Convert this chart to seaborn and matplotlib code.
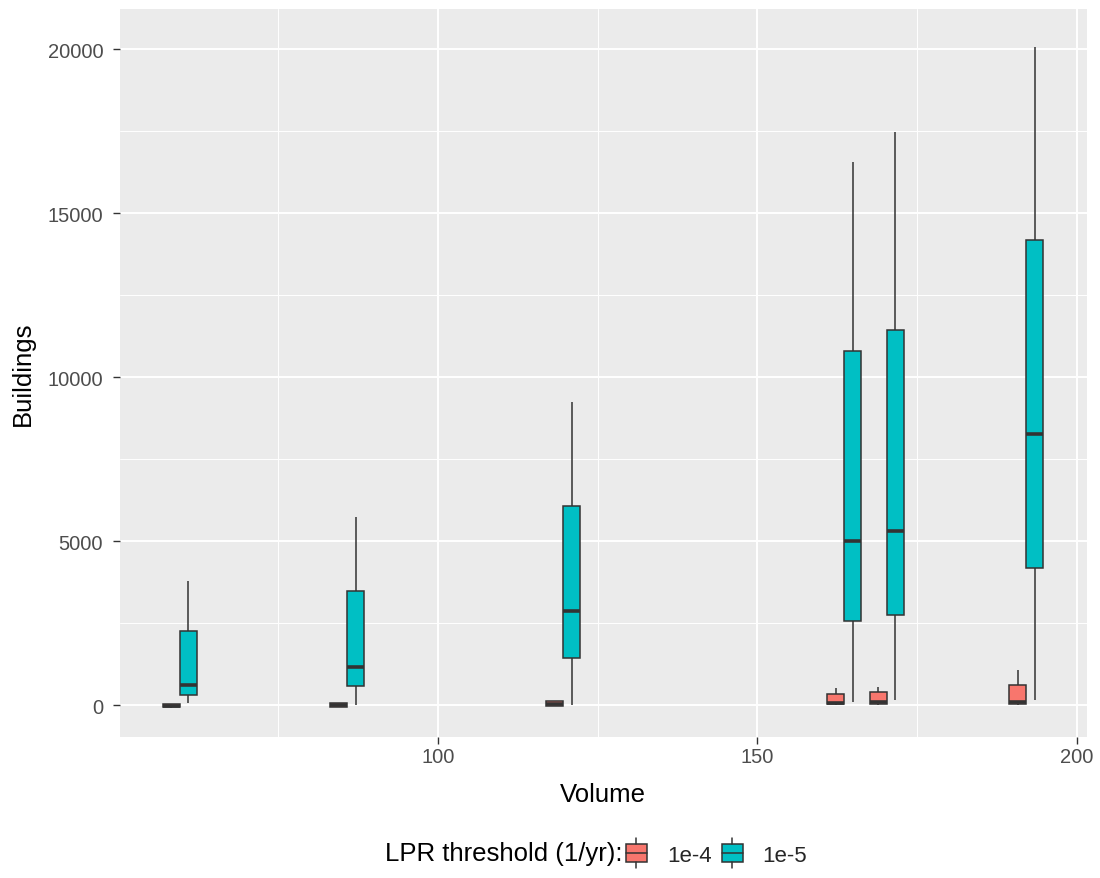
import matplotlib
matplotlib.use("Agg")
import matplotlib.pyplot as plt
from matplotlib.patches import Rectangle
from matplotlib.lines import Line2D
from matplotlib.legend_handler import HandlerBase
from matplotlib.ticker import FixedLocator
import pandas as pd
import seaborn as sns

# box summaries (whisker low, q1, median, q3, whisker high)
volumes = [59.6, 85.8, 119.6, 163.6, 170.3, 192.1]
thresholds = ["1e-4", "1e-5"]

low_1e4 = [-90, -60, -40, 0, 0, 0]
q1_1e4 = [-70, -50, -30, 40, 40, 40]
med_1e4 = [-30, -10, 30, 70, 90, 100]
q3_1e4 = [20, 50, 120, 330, 395, 610]
high_1e4 = [30, 60, 130, 520, 550, 1060]

low_1e5 = [60, 0, 0, 90, 150, 150]
q1_1e5 = [305, 578, 1430, 2554, 2736, 4165]
med_1e5 = [610, 1155, 2858, 4986, 5320, 8269]
q3_1e5 = [2256, 3466, 6080, 10792, 11430, 14166]
high_1e5 = [3770, 5746, 9242, 16568, 17480, 20050]

colors = {"1e-4": "#F8766D", "1e-5": "#00BFC4"}
line_col = "#333333"

summaries = {
    "1e-4": [low_1e4, q1_1e4, med_1e4, q3_1e4, high_1e4],
    "1e-5": [low_1e5, q1_1e5, med_1e5, q3_1e5, high_1e5],
}
rows = []
for thr in thresholds:
    for i, v in enumerate(volumes):
        for s in summaries[thr]:
            rows.append({"Volume": v, "LPR": thr, "Buildings": s[i]})
df = pd.DataFrame(rows)

sns.set_style("darkgrid", {"axes.facecolor": "#EBEBEB", "grid.color": "white"})
plt.rcParams["font.family"] = ["Liberation Sans", "DejaVu Sans"]

fig, ax = plt.subplots(figsize=(11, 8.79), dpi=100)
fig.subplots_adjust(left=0.109, right=0.988, top=0.9886, bottom=0.1604)

sns.boxplot(data=df, x="Volume", y="Buildings", hue="LPR", hue_order=thresholds,
            native_scale=True, palette=colors, saturation=1, whis=(0, 100),
            linecolor=line_col, linewidth=1.1, fliersize=0, showcaps=False,
            medianprops=dict(linewidth=2.6, color=line_col), legend=False, ax=ax)

ax.set_xlim(50.2, 201.6)
ax.set_ylim(-975, 21220)
ax.xaxis.set_major_locator(FixedLocator([100, 150, 200]))
ax.xaxis.set_minor_locator(FixedLocator([75, 125, 175]))
ax.yaxis.set_major_locator(FixedLocator([0, 5000, 10000, 15000, 20000]))
ax.yaxis.set_minor_locator(FixedLocator([2500, 7500, 12500, 17500]))
ax.set_xticklabels(["100", "150", "200"])
ax.set_yticklabels(["0", "5000", "10000", "15000", "20000"])
ax.grid(which="major", color="white", linewidth=1.4)
ax.grid(which="minor", color="white", linewidth=0.7)
ax.set_axisbelow(True)
for sp in ax.spines.values():
    sp.set_visible(False)
ax.tick_params(which="major", bottom=True, left=True, length=5, width=1,
               color=line_col, labelcolor="#4D4D4D", labelsize=14.5)
ax.tick_params(axis="y", which="major", pad=7)
ax.tick_params(axis="x", which="major", pad=2)
ax.tick_params(which="minor", length=0)
ax.set_xlabel("Volume", fontsize=18.5, color="black", labelpad=12)
ax.set_ylabel("Buildings", fontsize=18.5, color="black", labelpad=9)


class BoxKey(HandlerBase):
    def create_artists(self, legend, orig_handle, xdescent, ydescent,
                       width, height, fontsize, trans):
        x0, y0 = -xdescent, -ydescent
        fc = orig_handle.get_facecolor()
        box = Rectangle((x0, y0 + 0.2 * height), width, 0.6 * height,
                        facecolor=fc, edgecolor=line_col, linewidth=1.1, transform=trans)
        med = Line2D([x0, x0 + width], [y0 + 0.5 * height] * 2, color=line_col,
                     linewidth=1.1, transform=trans)
        top = Line2D([x0 + width / 2] * 2, [y0 + 0.8 * height, y0 + height],
                     color=line_col, linewidth=1.1, transform=trans)
        bot = Line2D([x0 + width / 2] * 2, [y0, y0 + 0.2 * height],
                     color=line_col, linewidth=1.1, transform=trans)
        return [box, med, top, bot]


handles = [Rectangle((0, 0), 1, 1, facecolor=colors[t]) for t in thresholds]
fig.text(0.566, 0.028, "LPR threshold (1/yr):", fontsize=18.5, color="black",
         ha="right", va="center")
fig.legend(handles, thresholds, loc="center left", bbox_to_anchor=(0.569, 0.028),
           ncol=2, frameon=False, fontsize=16, handlelength=0.95, handleheight=1.7,
           handletextpad=0.9, columnspacing=0.45, borderpad=0, borderaxespad=0,
           handler_map={Rectangle: BoxKey()})

fig.savefig("out.png", dpi=100)
